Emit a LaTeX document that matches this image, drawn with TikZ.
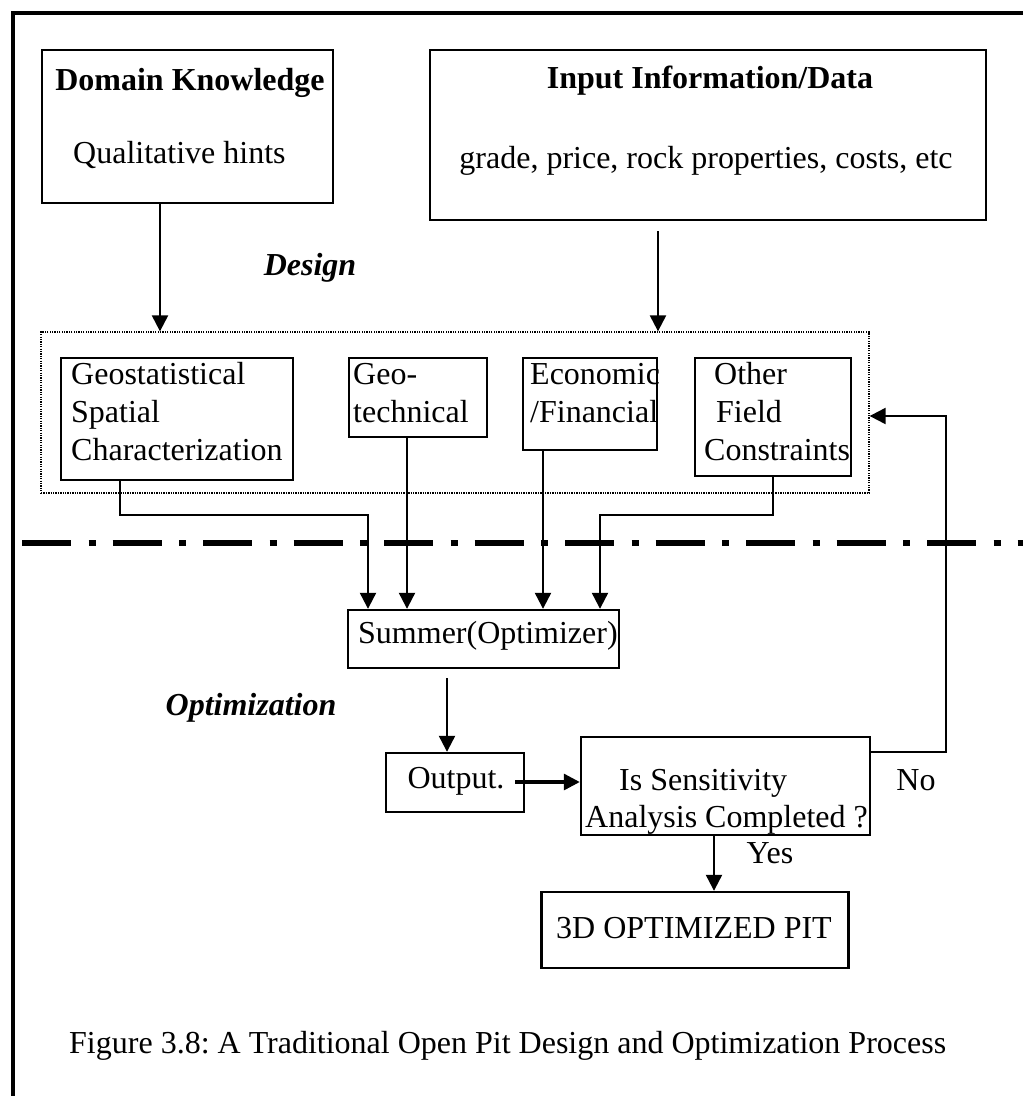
\documentclass[tikz,border=0pt]{standalone}
\usepackage{fontspec}
\setmainfont{Liberation Serif}
\usetikzlibrary{arrows.meta,calc}
\frenchspacing
\begin{document}
\begin{tikzpicture}[x=1pt,y=-1pt,
  box/.style={draw, line width=2.4pt, inner sep=0pt},
  arr/.style={line width=2.2pt, -{Triangle[length=16pt,width=16pt]}},
  txt/.style={font=\fontsize{32}{38}\selectfont, inner sep=0pt},
  lt/.style={txt, anchor=base west},
  ct/.style={txt, anchor=base},
  bt/.style={ct, font=\fontsize{32}{38}\selectfont\bfseries},
  bit/.style={ct, font=\fontsize{32}{38}\selectfont\bfseries\itshape},
]
\useasboundingbox (0,0) rectangle (1023,1096);
\fill[white] (0,0) rectangle (1023,1096);

% outer frame
\draw[line width=4pt] (13,1096) -- (13,13) -- (1023,13);

% top boxes
\node[box, minimum width=291pt, minimum height=153pt] (dk) at (187.5,126.5) {};
\node[bt] (dkt) at (190,90) {Domain Knowledge};
\node[lt] (dks) at (73,163) {Qualitative hints};

\node[box, minimum width=556pt, minimum height=170pt] (inp) at (708,135) {};
\node[bt] (inpt) at (710,88) {Input Information/Data};
\node[ct] (inps) at (706,168) {grade, price, rock properties, costs, etc};

\node[bit] (lbdesign) at (310,275) {Design};

% design group (dotted)
\node[draw, line width=1.3pt, dash pattern=on 1.3pt off 1.1pt, minimum width=828pt, minimum height=161pt, inner sep=0pt] (grp) at (455,412.5) {};

\node[box, minimum width=232pt, minimum height=122pt] (geo) at (177,419) {};
\node[lt] at (71,384) {Geostatistical};
\node[lt] at (71,422) {Spatial};
\node[lt] at (71,460) {Characterization};

\node[box, minimum width=138pt, minimum height=79pt] (gtech) at (418,397.5) {};
\node[lt] at (353,384) {Geo-};
\node[lt] at (353,422) {technical};

\node[box, minimum width=134pt, minimum height=92pt] (econ) at (590,404) {};
\node[lt] at (530,384) {Economic};
\node[lt] at (530,422) {/Financial};

\node[box, minimum width=156pt, minimum height=118pt] (other) at (773,417) {};
\node[lt] at (714,384) {Other};
\node[lt] at (716,422) {Field};
\node[lt] at (704,460) {Constraints};

% separator between design and optimization
\draw[line width=6.5pt, dash pattern=on 49pt off 17.5pt on 7pt off 17pt] (22,543) -- (1023,543);

% optimization part
\node[box, minimum width=271pt, minimum height=58pt] (sum) at (483.5,639) {};
\node[lt] at (358,643) {Summer(Optimizer)};

\node[bit] (lbopt) at (251,715) {Optimization};

\node[box, minimum width=138pt, minimum height=59pt] (out) at (455,782.5) {};
\node[ct] (outt) at (456,788) {Output.};

\node[box, minimum width=289pt, minimum height=98pt] (sens) at (725.5,786) {};
\node[lt] at (619,790) {Is Sensitivity};
\node[lt] at (585,827) {Analysis Completed ?};

\node[ct] (no) at (916,790) {No};
\node[ct] (yes) at (770,863) {Yes};

\node[box, minimum width=307pt, minimum height=76pt] (pit) at (695,930) {};
\node[ct] at (694,938) {3D OPTIMIZED PIT};

\node[lt] (cap) at (69,1053) {Figure 3.8: A Traditional Open Pit Design and Optimization Process};

% connector columns
\coordinate (cdk) at (160,0);
\coordinate (cin) at (658,0);
\coordinate (cgeo) at (120,0);
\coordinate (cgeoin) at (368,0);
\coordinate (cgt) at (407,0);
\coordinate (cec) at (543,0);
\coordinate (cot) at (773,0);
\coordinate (cotin) at (600,0);
\coordinate (bus) at (0,515);
\coordinate (cout) at (447,0);
\coordinate (cyes) at (714,0);
\coordinate (fbtop) at (946,416);
\coordinate (fbbot) at (946,752);
\coordinate (outsrc) at (515,782);

\draw[arr] (dk.south -| cdk) -- (grp.north -| cdk);
\draw[arr] ($(inp.south -| cin)+(0,10)$) -- (grp.north -| cin);

\draw[arr] (geo.south -| cgeo) -- (bus -| cgeo) -- (bus -| cgeoin) -- (sum.north -| cgeoin);
\draw[arr] (gtech.south -| cgt) -- (sum.north -| cgt);
\draw[arr] (econ.south -| cec) -- (sum.north -| cec);
\draw[arr] (other.south -| cot) -- (bus -| cot) -- (bus -| cotin) -- (sum.north -| cotin);

\draw[arr] ($(sum.south -| cout)+(0,9)$) -- (out.north -| cout);
\draw[line width=3.2pt, -{Triangle[length=16pt,width=16pt]}] (outsrc) -- (sens.west |- outsrc);
\draw[arr] (sens.south -| cyes) -- (pit.north -| cyes);
\draw[arr] (fbbot -| sens.east) -- (fbbot) -- (fbtop) -- (fbtop -| grp.east);
\end{tikzpicture}
\end{document}
